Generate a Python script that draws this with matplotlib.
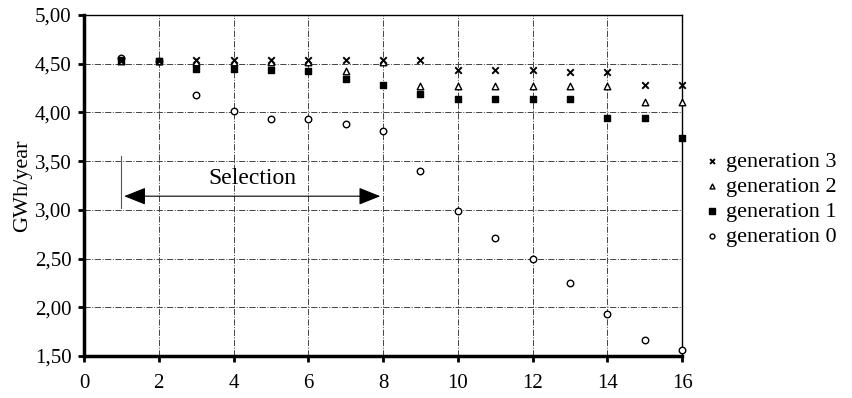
import matplotlib
matplotlib.use("Agg")
import matplotlib.pyplot as plt
from matplotlib.ticker import FuncFormatter

plt.rcParams['font.family'] = ['Liberation Serif', 'DejaVu Serif']

x = list(range(1, 17))
gen3 = [4.53, 4.53, 4.54, 4.54, 4.54, 4.54, 4.54, 4.54, 4.54, 4.43, 4.43, 4.43, 4.41, 4.41, 4.28, 4.28]
gen2 = [4.53, 4.53, 4.52, 4.52, 4.52, 4.52, 4.42, 4.52, 4.27, 4.27, 4.27, 4.27, 4.27, 4.27, 4.11, 4.11]
gen1 = [4.54, 4.53, 4.44, 4.44, 4.43, 4.42, 4.34, 4.28, 4.19, 4.14, 4.14, 4.14, 4.14, 3.94, 3.94, 3.74]
gen0 = [4.56, 4.53, 4.18, 4.01, 3.93, 3.93, 3.88, 3.81, 3.40, 2.99, 2.71, 2.50, 2.25, 1.93, 1.66, 1.56]
labels = ["generation 3", "generation 2", "generation 1", "generation 0"]

fig = plt.figure(figsize=(8.52, 3.98), dpi=100)
ax = fig.add_axes([0.0986, 0.1055, 0.702, 0.857])

ax.scatter(x, gen0, marker='o', s=22, facecolors='white', edgecolors='black', linewidths=1.0, zorder=3, label=labels[3], clip_on=False)
ax.scatter(x, gen1, marker='s', s=24, color='black', zorder=4, label=labels[2], clip_on=False)
ax.scatter(x, gen2, marker='^', s=22, facecolors='white', edgecolors='black', linewidths=1.0, zorder=5, label=labels[1], clip_on=False)
ax.scatter(x, gen3, marker='x', s=22, color='black', linewidths=1.4, zorder=6, label=labels[0], clip_on=False)

ax.set_xlim(0, 16)
ax.set_ylim(1.5, 5.0)
ax.set_xticks(range(0, 17, 2))
ax.set_yticks([1.5 + 0.5 * i for i in range(8)])
ax.yaxis.set_major_formatter(FuncFormatter(lambda v, p: f"{v:.2f}".replace('.', ',')))
ax.grid(True, color='#444444', linestyle='-.', linewidth=0.7)
ax.set_axisbelow(True)
for s in ['left', 'bottom']:
    ax.spines[s].set_linewidth(2.5)
for s in ['top', 'right']:
    ax.spines[s].set_linewidth(1.0)
ax.tick_params(direction='out', length=4, width=2, labelsize=15, colors='black')
ax.tick_params(axis='x', pad=9)
ax.tick_params(axis='y', pad=5)
ax.set_ylabel("GWh/year", fontsize=16, labelpad=2)

# selection marker
ax.plot([1, 1], [3.55, 3.02], color='#555555', linewidth=0.8, zorder=2)
ax.annotate('', xy=(1, 3.14), xytext=(8, 3.14),
            arrowprops=dict(arrowstyle='<|-|>,head_length=0.75,head_width=0.3', color='black', lw=0.8, mutation_scale=18))
ax.text(4.5, 3.32, "Selection", ha='center', va='center', fontsize=17)

handles, lbls = ax.get_legend_handles_labels()
order = [3, 2, 1, 0]
leg = ax.legend([handles[i] for i in order], [lbls[i] for i in order],
                loc='center left', bbox_to_anchor=(0.995, 0.46), frameon=False,
                fontsize=16, handletextpad=0.0, markerscale=0.75, labelspacing=0.2,
                handlelength=1.2)

fig.savefig("out.png", dpi=100)
